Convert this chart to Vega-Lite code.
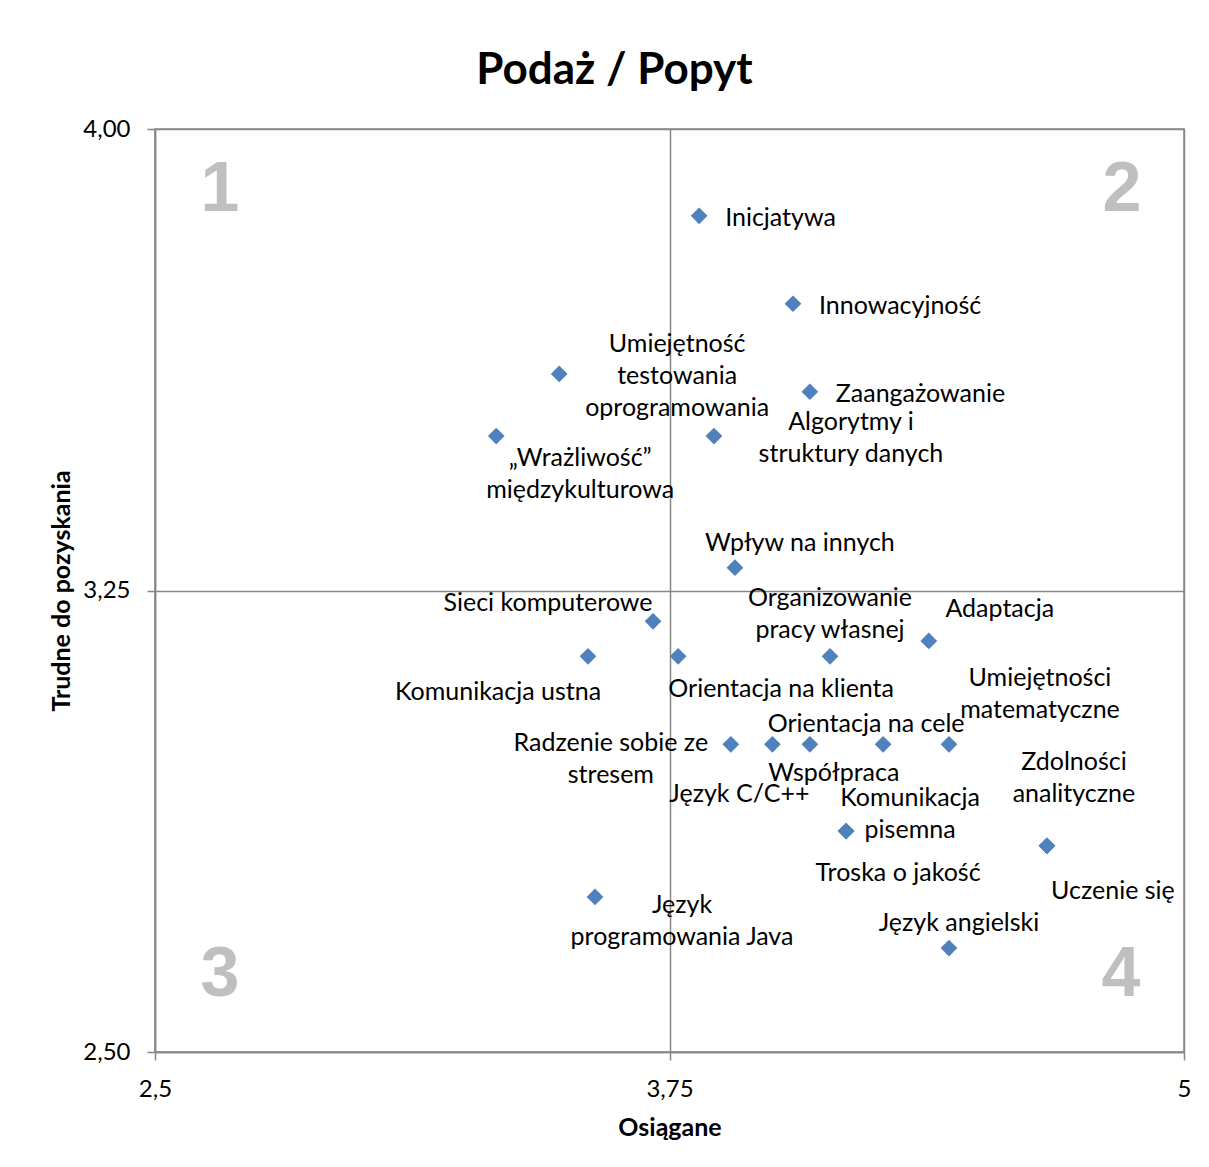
{
  "$schema": "https://vega.github.io/schema/vega-lite/v6.json",
  "width": 1029,
  "height": 923,
  "autosize": {"type": "none"},
  "padding": {"left": 155, "top": 129, "right": 25, "bottom": 115},
  "background": "white",
  "title": {"text": "Podaż / Popyt", "font": "Lato", "fontSize": 44, "fontWeight": "bold", "color": "#000000", "anchor": "middle", "dx": -55, "offset": 24},
  "config": {
    "view": {"stroke": "#868686", "strokeWidth": 1.5},
    "axis": {"domainColor": "#868686", "domainWidth": 1.5, "tickColor": "#868686", "tickWidth": 1.5, "tickSize": 8, "gridColor": "#868686", "gridWidth": 1.5, "gridOpacity": 1, "labelFont": "Lato", "labelFontSize": 24, "labelColor": "#000000", "titleFont": "Lato", "titleFontSize": 25, "titleFontWeight": "bold", "titleColor": "#000000", "labelPadding": 17, "labelFlush": false},
    "text": {"font": "Lato", "fontSize": 25, "lineBreak": "\n", "lineHeight": 32, "baseline": "middle", "align": "center", "color": "#000000"}
  },
  "datasets": {
    "points": [
      {"name": "Inicjatywa", "label": "Inicjatywa", "x": 3.822, "y": 3.859},
      {"name": "Innowacyjność", "label": "Innowacyjność", "x": 4.05, "y": 3.716},
      {"name": "Umiejętność testowania oprogramowania", "label": "Umiejętność\ntestowania\noprogramowania", "x": 3.482, "y": 3.602},
      {"name": "Zaangażowanie", "label": "Zaangażowanie", "x": 4.091, "y": 3.573},
      {"name": "Wrażliwość międzykulturowa", "label": "„Wrażliwość”\nmiędzykulturowa", "x": 3.329, "y": 3.501},
      {"name": "Algorytmy i struktury danych", "label": "Algorytmy i\nstruktury danych", "x": 3.858, "y": 3.501},
      {"name": "Wpływ na innych", "label": "Wpływ na innych", "x": 3.909, "y": 3.287},
      {"name": "Sieci komputerowe", "label": "Sieci komputerowe", "x": 3.71, "y": 3.2},
      {"name": "Komunikacja ustna", "label": "Komunikacja ustna", "x": 3.552, "y": 3.143},
      {"name": "Orientacja na klienta", "label": "Orientacja na klienta", "x": 3.771, "y": 3.143},
      {"name": "Organizowanie pracy własnej", "label": "Organizowanie\npracy własnej", "x": 4.14, "y": 3.143},
      {"name": "Adaptacja", "label": "Adaptacja", "x": 4.38, "y": 3.168},
      {"name": "Radzenie sobie ze stresem", "label": "Radzenie sobie ze\nstresem", "x": 3.899, "y": 3.0},
      {"name": "Język C/C++", "label": "Język C/C++", "x": 4.0, "y": 3.0},
      {"name": "Współpraca", "label": "Współpraca", "x": 4.091, "y": 3.0},
      {"name": "Orientacja na cele", "label": "Orientacja na cele", "x": 4.269, "y": 3.0},
      {"name": "Umiejętności matematyczne", "label": "Umiejętności\nmatematyczne", "x": 4.429, "y": 3.0},
      {"name": "Komunikacja pisemna", "label": "Komunikacja\npisemna", "x": 4.179, "y": 2.859},
      {"name": "Troska o jakość", "label": "Troska o jakość", "x": 4.179, "y": 2.859},
      {"name": "Zdolności analityczne", "label": "Zdolności\nanalityczne", "x": 4.667, "y": 2.835},
      {"name": "Uczenie się", "label": "Uczenie się", "x": 4.667, "y": 2.835},
      {"name": "Język programowania Java", "label": "Język\nprogramowania Java", "x": 3.569, "y": 2.752},
      {"name": "Język angielski", "label": "Język angielski", "x": 4.429, "y": 2.669}
    ],
    "quadrants": [
      {"label": "1", "x": 2.658, "y": 3.901},
      {"label": "2", "x": 4.849, "y": 3.901},
      {"label": "3", "x": 2.658, "y": 2.625},
      {"label": "4", "x": 4.847, "y": 2.625}
    ]
  },
  "encoding": {
    "x": {"field": "x", "type": "quantitative", "scale": {"domain": [2.5, 5], "nice": false, "zero": false}, "axis": {"title": "Osiągane", "values": [2.5, 3.75, 5], "grid": true, "labelExpr": "replace(toString(datum.value), '.', ',')", "titlePadding": 14}},
    "y": {"field": "y", "type": "quantitative", "scale": {"domain": [2.5, 4], "nice": false, "zero": false}, "axis": {"title": "Trudne do pozyskania", "values": [2.5, 3.25, 4], "grid": true, "labelExpr": "replace(format(datum.value, '.2f'), '.', ',')", "titlePadding": 8}}
  },
  "layer": [
    {"data": {"name": "quadrants"}, "mark": {"type": "text", "font": "Liberation Sans", "fontSize": 70, "fontWeight": "bold", "color": "#BFBFBF"}, "encoding": {"text": {"field": "label"}}},
    {"data": {"name": "points"}, "mark": {"type": "point", "shape": "diamond", "filled": true, "size": 280, "color": "#4F81BD", "opacity": 1}},
    {"data": {"name": "points"}, "transform": [{"filter": "datum.name === 'Inicjatywa'"}], "mark": {"type": "text", "align": "left", "dx": 26, "dy": 2}, "encoding": {"text": {"field": "label"}}},
    {"data": {"name": "points"}, "transform": [{"filter": "datum.name === 'Innowacyjność'"}], "mark": {"type": "text", "align": "left", "dx": 26, "dy": 2}, "encoding": {"text": {"field": "label"}}},
    {"data": {"name": "points"}, "transform": [{"filter": "datum.name === 'Umiejętność testowania oprogramowania'"}], "mark": {"type": "text", "dx": 118, "dy": -30}, "encoding": {"text": {"field": "label"}}},
    {"data": {"name": "points"}, "transform": [{"filter": "datum.name === 'Zaangażowanie'"}], "mark": {"type": "text", "align": "left", "dx": 26, "dy": 2}, "encoding": {"text": {"field": "label"}}},
    {"data": {"name": "points"}, "transform": [{"filter": "datum.name === 'Wrażliwość międzykulturowa'"}], "mark": {"type": "text", "dx": 84, "dy": 22}, "encoding": {"text": {"field": "label"}}},
    {"data": {"name": "points"}, "transform": [{"filter": "datum.name === 'Algorytmy i struktury danych'"}], "mark": {"type": "text", "dx": 137, "dy": -14}, "encoding": {"text": {"field": "label"}}},
    {"data": {"name": "points"}, "transform": [{"filter": "datum.name === 'Wpływ na innych'"}], "mark": {"type": "text", "dx": 65, "dy": -25}, "encoding": {"text": {"field": "label"}}},
    {"data": {"name": "points"}, "transform": [{"filter": "datum.name === 'Sieci komputerowe'"}], "mark": {"type": "text", "dx": -105, "dy": -18}, "encoding": {"text": {"field": "label"}}},
    {"data": {"name": "points"}, "transform": [{"filter": "datum.name === 'Komunikacja ustna'"}], "mark": {"type": "text", "dx": -90, "dy": 36}, "encoding": {"text": {"field": "label"}}},
    {"data": {"name": "points"}, "transform": [{"filter": "datum.name === 'Orientacja na klienta'"}], "mark": {"type": "text", "dx": 103, "dy": 33}, "encoding": {"text": {"field": "label"}}},
    {"data": {"name": "points"}, "transform": [{"filter": "datum.name === 'Organizowanie pracy własnej'"}], "mark": {"type": "text", "dx": 0, "dy": -58}, "encoding": {"text": {"field": "label"}}},
    {"data": {"name": "points"}, "transform": [{"filter": "datum.name === 'Adaptacja'"}], "mark": {"type": "text", "dx": 71, "dy": -32}, "encoding": {"text": {"field": "label"}}},
    {"data": {"name": "points"}, "transform": [{"filter": "datum.name === 'Umiejętności matematyczne'"}], "mark": {"type": "text", "dx": 91, "dy": -66}, "encoding": {"text": {"field": "label"}}},
    {"data": {"name": "points"}, "transform": [{"filter": "datum.name === 'Radzenie sobie ze stresem'"}], "mark": {"type": "text", "dx": -120, "dy": -1}, "encoding": {"text": {"field": "label"}}},
    {"data": {"name": "points"}, "transform": [{"filter": "datum.name === 'Język C/C++'"}], "mark": {"type": "text", "dx": -33, "dy": 50}, "encoding": {"text": {"field": "label"}}},
    {"data": {"name": "points"}, "transform": [{"filter": "datum.name === 'Współpraca'"}], "mark": {"type": "text", "dx": 24, "dy": 29}, "encoding": {"text": {"field": "label"}}},
    {"data": {"name": "points"}, "transform": [{"filter": "datum.name === 'Orientacja na cele'"}], "mark": {"type": "text", "dx": -17, "dy": -20}, "encoding": {"text": {"field": "label"}}},
    {"data": {"name": "points"}, "transform": [{"filter": "datum.name === 'Komunikacja pisemna'"}], "mark": {"type": "text", "dx": 64, "dy": -33}, "encoding": {"text": {"field": "label"}}},
    {"data": {"name": "points"}, "transform": [{"filter": "datum.name === 'Troska o jakość'"}], "mark": {"type": "text", "dx": 52, "dy": 42}, "encoding": {"text": {"field": "label"}}},
    {"data": {"name": "points"}, "transform": [{"filter": "datum.name === 'Zdolności analityczne'"}], "mark": {"type": "text", "dx": 27, "dy": -84}, "encoding": {"text": {"field": "label"}}},
    {"data": {"name": "points"}, "transform": [{"filter": "datum.name === 'Uczenie się'"}], "mark": {"type": "text", "dx": 66, "dy": 45}, "encoding": {"text": {"field": "label"}}},
    {"data": {"name": "points"}, "transform": [{"filter": "datum.name === 'Język programowania Java'"}], "mark": {"type": "text", "dx": 87, "dy": 8}, "encoding": {"text": {"field": "label"}}},
    {"data": {"name": "points"}, "transform": [{"filter": "datum.name === 'Język angielski'"}], "mark": {"type": "text", "dx": 10, "dy": -25}, "encoding": {"text": {"field": "label"}}}
  ]
}
